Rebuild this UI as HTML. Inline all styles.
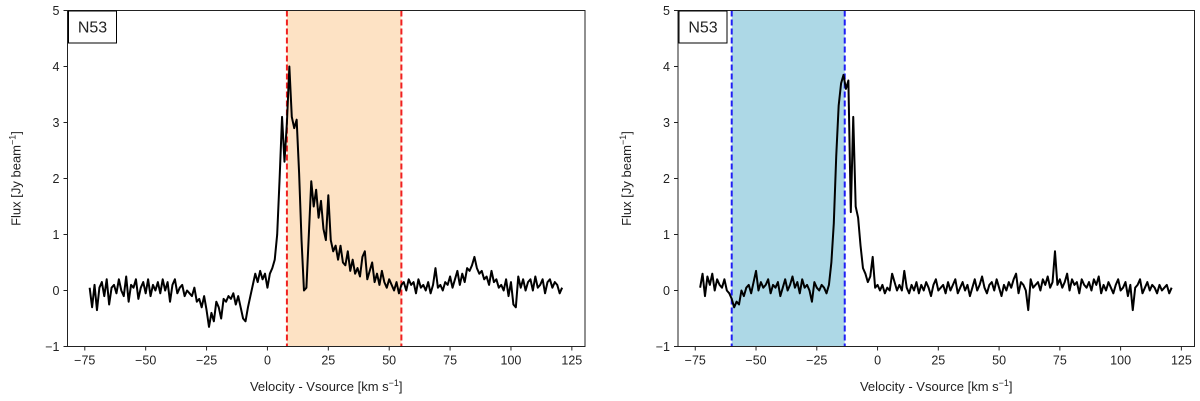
<!DOCTYPE html>
<html><head><meta charset="utf-8"><style>
body{margin:0;background:#fff;}
svg{display:block;font-family:"Liberation Sans","DejaVu Sans",sans-serif;}
</style></head><body>
<svg id="chart" width="1200" height="401" viewBox="0 0 1200 401" xmlns="http://www.w3.org/2000/svg"></svg>
<script>
const vStart = -73;
const leftFlux = [
0.05,-0.3,0.1,-0.35,0.05,0.15,-0.1,0.2,-0.25,0.05,
0.1,-0.05,0.2,0.0,-0.1,0.25,-0.2,0.1,0.05,0.2,
-0.15,0.05,0.15,-0.05,0.2,-0.1,0.1,0.0,0.15,-0.05,
0.2,0.0,0.15,-0.2,0.1,0.2,-0.05,0.05,0.1,-0.1,
0.0,-0.05,-0.1,0.05,-0.2,-0.15,-0.3,-0.1,-0.35,-0.65,
-0.4,-0.55,-0.2,-0.3,-0.5,-0.15,-0.2,-0.1,-0.15,-0.05,
-0.25,-0.1,-0.3,-0.5,-0.55,-0.3,-0.1,0.1,0.3,0.15,
0.35,0.2,0.3,0.05,0.3,0.4,0.55,1.0,2.0,3.1,
2.3,3.0,4.0,3.1,2.9,3.05,2.1,0.9,0.0,0.05,
1.0,1.95,1.5,1.8,1.3,1.6,1.1,0.9,1.7,0.9,
0.7,0.8,0.55,0.8,0.5,0.45,0.7,0.35,0.55,0.3,
0.4,0.25,0.6,0.7,0.2,0.35,0.5,0.15,0.3,0.1,
0.35,0.15,0.05,0.2,0.1,0.0,0.15,-0.05,0.1,0.15,
0.0,0.2,0.1,0.15,-0.05,0.2,0.05,0.1,0.0,0.15,
-0.05,0.1,0.4,0.05,0.1,0.0,0.15,0.1,0.25,0.05,
0.2,0.35,0.1,0.3,0.15,0.4,0.35,0.45,0.6,0.4,
0.3,0.35,0.2,0.25,0.1,0.35,0.15,0.2,0.05,0.1,
0.0,0.2,-0.1,0.15,-0.25,-0.3,0.25,0.05,0.2,0.0,
0.15,0.2,0.0,0.25,0.05,0.1,0.2,-0.05,0.15,0.2,
0.05,0.15,0.1,-0.05,0.05];
const rightFlux = [
0.05,0.3,-0.1,0.25,0.1,0.3,0.0,0.2,0.1,0.05,
0.2,0.0,-0.05,-0.15,-0.3,-0.2,-0.25,0.0,-0.1,0.05,
0.1,-0.05,0.15,0.35,0.0,0.15,0.05,0.1,0.2,-0.05,
0.1,0.05,0.15,-0.1,0.05,0.2,0.0,0.1,0.25,0.05,
0.15,-0.05,0.2,0.05,0.1,0.0,-0.2,0.15,0.05,0.0,
0.1,0.05,-0.05,0.1,0.5,1.2,2.4,3.3,3.7,3.85,
3.6,3.75,1.4,3.1,1.5,1.3,0.8,0.4,0.3,0.15,
0.25,0.6,0.05,0.1,0.0,0.1,-0.05,0.05,0.0,0.3,
0.15,0.0,0.1,0.0,0.35,0.05,-0.05,0.1,0.0,0.15,
-0.05,0.1,0.0,0.15,0.05,-0.1,0.1,0.2,0.0,0.05,
0.1,-0.05,0.15,0.0,0.1,0.2,-0.05,0.05,0.15,0.0,
0.1,-0.1,0.05,0.2,0.0,0.1,0.25,0.05,-0.05,0.1,
0.15,0.0,0.2,0.05,-0.1,0.1,0.0,0.15,0.05,0.2,
0.3,-0.05,0.15,0.1,0.0,-0.35,0.2,0.05,0.1,0.15,
0.0,0.2,0.1,0.25,0.05,0.15,0.7,0.1,0.2,0.05,
0.15,0.3,0.0,0.2,0.1,0.15,-0.05,0.2,0.1,0.05,
0.15,0.0,0.2,0.1,0.25,-0.05,0.1,0.0,0.15,0.05,
-0.05,0.1,0.2,0.0,0.05,0.15,-0.1,0.1,-0.35,0.05,
0.1,0.2,-0.05,0.05,0.15,0.0,0.1,0.05,-0.05,0.1,
0.0,0.05,0.1,-0.05,0.05];
const xTicks = [-75,-50,-25,0,25,50,75,100,125];
const yTicks = [-1,0,1,2,3,4,5];
const leftSpan = [8, 55];
const rightSpan = [-60, -13.5];

const NS = "http://www.w3.org/2000/svg";
const svg = document.getElementById('chart');
function mk(tag, attrs, parent){const e=document.createElementNS(NS,tag);for(const k in attrs)e.setAttribute(k,attrs[k]);(parent||svg).appendChild(e);return e;}

function panel(x0, x1, flux, span, fill, lineColor, name){
  const top=10.5, bot=346.5;
  const xmin=-82.1, xmax=130.4, ymin=-1, ymax=5;
  const sx=v=>x0+(v-xmin)/(xmax-xmin)*(x1-x0);
  const sy=f=>bot-(f-ymin)/(ymax-ymin)*(bot-top);
  const g=mk('g',{});
  
  
  const r=mk('rect',{x:sx(span[0]),y:top,width:sx(span[1])-sx(span[0]),height:bot-top,fill:fill},g);
  
  
  span.forEach(v=>{
    const l=mk('line',{x1:sx(v),x2:sx(v),y1:top,y2:bot,stroke:lineColor,'stroke-width':2,'stroke-dasharray':'6,3'},g);
    
    
  });
  let d='';
  flux.forEach((f,i)=>{d+=(i?'L':'M')+sx(vStart+i).toFixed(2)+','+sy(f).toFixed(2);});
  const p=mk('path',{d:d,fill:'none',stroke:'#000','stroke-width':2,'stroke-linejoin':'round'},g);
  
  
  const fr=mk('rect',{x:x0,y:top,width:x1-x0,height:bot-top,fill:'none',stroke:'#222','stroke-width':1},g);
  
  
  xTicks.forEach(t=>{
    mk('line',{x1:sx(t),x2:sx(t),y1:bot,y2:bot+4,stroke:'#222'},g);
    const tx=mk('text',{x:sx(t),y:bot+18,'text-anchor':'middle','font-size':12.5,fill:'#222'},g);
    tx.textContent=t<0?'\u2212'+(-t):String(t);
    
    
  });
  yTicks.forEach(t=>{
    mk('line',{x1:x0-4,x2:x0,y1:sy(t),y2:sy(t),stroke:'#222'},g);
    const tx=mk('text',{x:x0-8,y:sy(t)+4.5,'text-anchor':'end','font-size':12.5,fill:'#222'},g);
    tx.textContent=t<0?'\u2212'+(-t):String(t);
    
    
  });
  const xl=mk('text',{x:(x0+x1)/2,y:391,'text-anchor':'middle','font-size':13,fill:'#222'},g);
  xl.innerHTML='Velocity - Vsource [km s<tspan dy="-5" font-size="9">\u22121</tspan><tspan dy="5">]</tspan>';
  
  
  const yx=x0-47, yy=(top+bot)/2;
  const yl=mk('text',{x:yx,y:yy,'text-anchor':'middle','font-size':13,fill:'#222',transform:`rotate(-90 ${yx} ${yy})`},g);
  yl.innerHTML='Flux [Jy beam<tspan dy="-5" font-size="9">\u22121</tspan><tspan dy="5">]</tspan>';
  
  
  const bx=mk('rect',{x:x0+1,y:top+0.5,width:48,height:32,fill:'#fff',stroke:'#000','stroke-width':1},g);
  
  
  const bt=mk('text',{x:x0+25,y:top+22,'text-anchor':'middle','font-size':16,fill:'#222'},g);
  bt.textContent='N53';
  
  
}
panel(67.5, 585, leftFlux, leftSpan, '#fde2c4', '#f02020', 'left-panel');
panel(678, 1194.5, rightFlux, rightSpan, '#add8e6', '#1f1ff5', 'right-panel');
</script>
</body></html>
